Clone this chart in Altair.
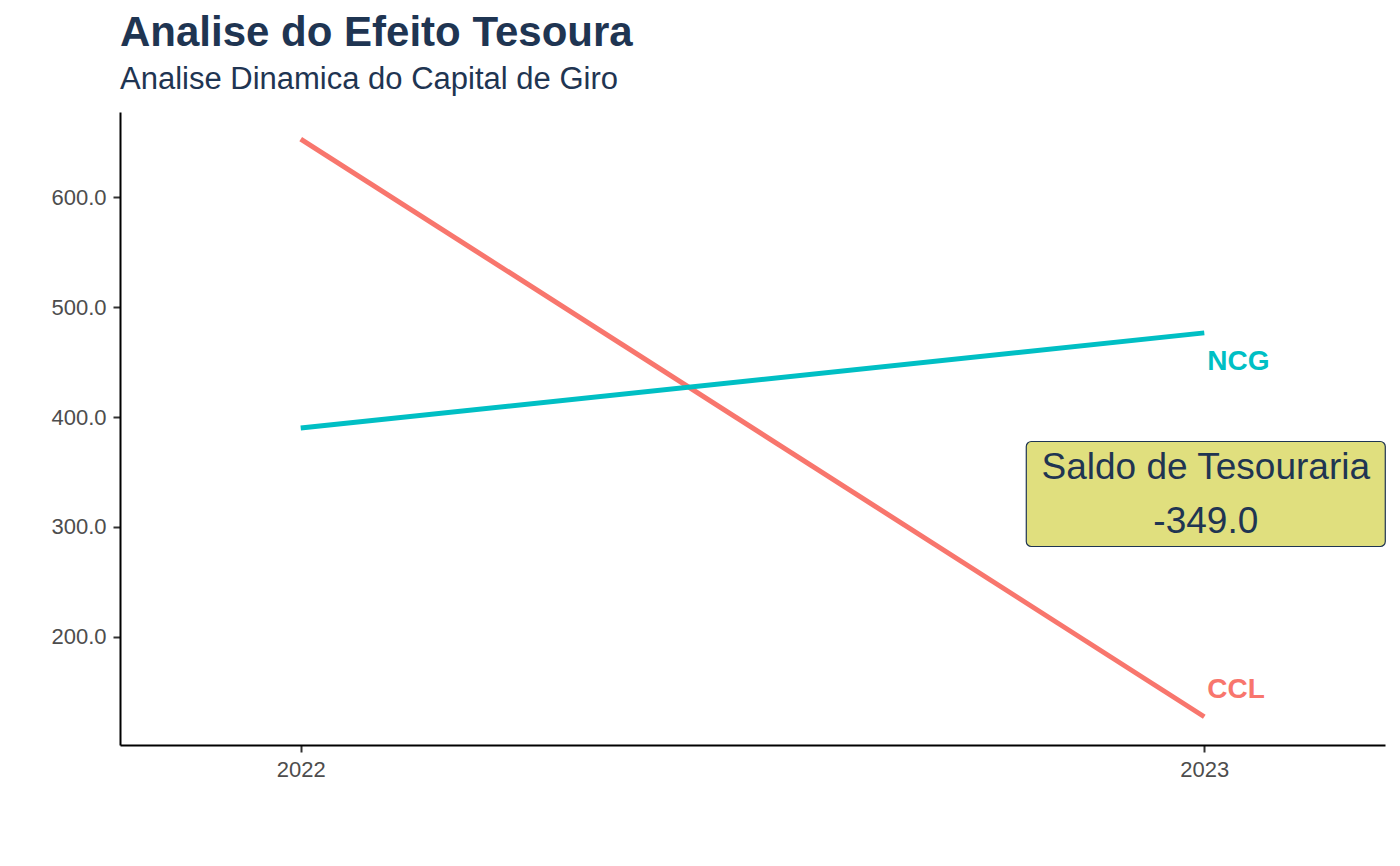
import altair as alt
import pandas as pd

years = [2022, 2023]
ccl = [652.7, 127.5]
ncg = [390.0, 476.5]
series_names = ["CCL", "NCG"]
series_colors = ["#F8766D", "#00BFC4"]
y_ticks = [200, 300, 400, 500, 600]
x_ticks = [2022, 2023]
box_y = 330.0

saldo = ccl[-1] - ncg[-1]

df = pd.DataFrame({
    "ano": years * 2,
    "valor": ccl + ncg,
    "serie": ["CCL"] * len(years) + ["NCG"] * len(years),
})

navy = "#1F3552"
FONT = "Liberation Sans"

xscale = alt.Scale(domain=[2021.8, 2023.2], nice=False, zero=False)
yscale = alt.Scale(domain=[101.8, 677.3], nice=False, zero=False)
cscale = alt.Scale(domain=series_names, range=series_colors)

X = alt.X("ano:Q", scale=xscale, title=None,
          axis=alt.Axis(values=x_ticks, format="d", grid=False))
Y = alt.Y("valor:Q", scale=yscale, title=None,
          axis=alt.Axis(values=y_ticks, format=".1f", grid=False))

lines = alt.Chart(df).mark_line(strokeWidth=5).encode(
    x=X, y=Y, color=alt.Color("serie:N", scale=cscale, legend=None),
    detail="serie:N",
)

end_ccl = pd.DataFrame({"ano": [years[-1]], "valor": [ccl[-1]], "serie": ["CCL"]})
end_ncg = pd.DataFrame({"ano": [years[-1]], "valor": [ncg[-1]], "serie": ["NCG"]})

lab_ncg = alt.Chart(end_ncg).mark_text(
    align="left", baseline="middle", dx=3, dy=29, fontSize=28,
    fontWeight="bold", font=FONT,
).encode(x="ano:Q", y="valor:Q", text="serie:N",
         color=alt.Color("serie:N", scale=cscale, legend=None))

lab_ccl = alt.Chart(end_ccl).mark_text(
    align="left", baseline="middle", dx=3, dy=-27, fontSize=28,
    fontWeight="bold", font=FONT,
).encode(x="ano:Q", y="valor:Q", text="serie:N",
         color=alt.Color("serie:N", scale=cscale, legend=None))

box_df = pd.DataFrame({
    "ano": [years[-1]], "valor": [box_y],
    "l1": ["Saldo de Tesouraria"], "l2": [f"{saldo:.1f}"],
})

box = alt.Chart(box_df).mark_rect(
    width=359, height=105, cornerRadius=5, fill="#E0DF7E",
    stroke=navy, strokeWidth=1.2, xOffset=1.5,
).encode(x="ano:Q", y="valor:Q")

t1 = alt.Chart(box_df).mark_text(
    align="center", baseline="middle", dy=-26, dx=1.5, fontSize=37,
    font=FONT, color=navy,
).encode(x="ano:Q", y="valor:Q", text="l1:N")

t2 = alt.Chart(box_df).mark_text(
    align="center", baseline="middle", dy=28, dx=1.5, fontSize=37,
    font=FONT, color=navy,
).encode(x="ano:Q", y="valor:Q", text="l2:N")

chart = alt.layer(lines, lab_ncg, lab_ccl, box, t1, t2).properties(
    width=1265, height=633,
    title=alt.Title(
        "Analise do Efeito Tesoura",
        subtitle="Analise Dinamica do Capital de Giro",
        anchor="start", frame="group",
        font=FONT, fontSize=42, fontWeight="bold", color=navy,
        subtitleFont=FONT, subtitleFontSize=31, subtitleColor=navy,
        subtitlePadding=10, offset=16,
    ),
    padding={"left": 120, "top": 112, "right": 15, "bottom": 121},
    autosize=alt.AutoSizeParams(type="none"),
).configure_view(stroke=None).configure_axis(
    domainColor="black", domainWidth=2, tickColor="#333333", tickWidth=2,
    tickSize=7, labelFont=FONT, labelFontSize=22, labelColor="#4D4D4D",
    labelPadding=7,
).configure_axisX(labelPadding=7)

chart.save("out.html", embed_options={"renderer": "svg", "actions": False})
